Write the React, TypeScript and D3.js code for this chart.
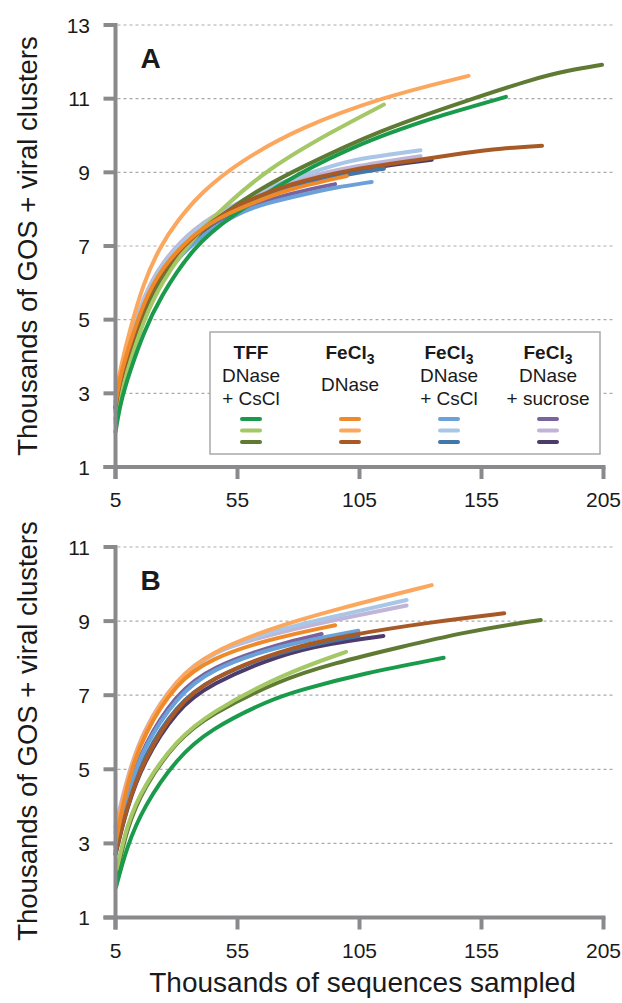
import React from "react";
import * as d3 from "d3";

type Pt = [number, number];

// ---------- tick values ----------
const X_TICKS = [5, 55, 105, 155, 205];
const Y_TICKS_A = [1, 3, 5, 7, 9, 11, 13];
const Y_TICKS_B = [1, 3, 5, 7, 9, 11];

// ---------- legend ----------
const LEGEND_HEADERS = ["TFF", "FeCl", "FeCl", "FeCl"];
const LEGEND_SUB = ["", "3", "3", "3"];
const LEGEND_LINE1 = ["DNase", "DNase", "DNase", "DNase"];
const LEGEND_LINE2 = ["+ CsCl", "", "+ CsCl", "+ sucrose"];

// ---------- colours (group x replicate) ----------
const TFF_COLORS = ["#1a9a4b", "#a5c867", "#5f7a33"];
const FE_COLORS = ["#ef8a2a", "#fba85e", "#a85a26"];
const CS_COLORS = ["#6aa1d8", "#a8c6e6", "#4277aa"];
const SU_COLORS = ["#7a629e", "#c0b4d8", "#4d3c6b"];

// ---------- Panel A data (thousands sampled, thousands of clusters) ----------
const A_TFF_1: Pt[] = [[5, 1.95], [7, 2.75], [10.9, 3.6], [16.4, 4.63], [23.2, 5.6], [36.9, 6.98], [51.9, 7.8], [80, 9.0], [108, 9.85], [123, 10.2], [135, 10.48], [165, 11.05]];
const A_TFF_2: Pt[] = [[5, 2.2], [7, 2.95], [10.9, 3.85], [16.4, 4.95], [23.2, 5.95], [36.9, 7.25], [49.3, 8.05], [67, 9.08], [94.3, 10.13], [115, 10.84]];
const A_TFF_3: Pt[] = [[5, 2.3], [7, 3.2], [10.9, 4.1], [16.4, 5.2], [23.2, 6.15], [36.9, 7.25], [51.9, 8.0], [64.2, 8.55], [80.8, 9.13], [113.4, 10.15], [149.1, 10.95], [176.3, 11.54], [190, 11.76], [204.4, 11.92]];
const A_FE_1: Pt[] = [[5, 2.73], [6.8, 3.45], [10.9, 4.36], [16.4, 5.44], [23.2, 6.35], [36.9, 7.35], [50.6, 7.89], [68.3, 8.35], [76.5, 8.55], [99.8, 8.9]];
const A_FE_2: Pt[] = [[5, 2.9], [6.8, 3.63], [10.9, 4.72], [16.4, 5.99], [23.2, 6.98], [30, 7.65], [39.8, 8.44], [56, 9.3], [80.8, 10.22], [114.8, 11.05], [149.7, 11.62]];
const A_FE_3: Pt[] = [[5, 2.6], [6.8, 3.35], [10.9, 4.25], [16.4, 5.35], [23.2, 6.3], [36.9, 7.3], [53.4, 8.1], [76.5, 8.7], [101.1, 9.08], [129.8, 9.34], [149.1, 9.54], [162.6, 9.65], [179.8, 9.72]];
const A_CS_1: Pt[] = [[5, 2.5], [6.8, 3.25], [10.9, 4.15], [16.4, 5.2], [23.2, 6.1], [36.9, 7.15], [56, 7.93], [67.2, 8.17], [83.4, 8.42], [94.4, 8.58], [110, 8.74]];
const A_CS_2: Pt[] = [[5, 2.75], [6.8, 3.5], [10.9, 4.45], [16.4, 5.55], [23.2, 6.45], [36.9, 7.45], [53.4, 8.1], [69.7, 8.65], [80.8, 8.9], [97, 9.25], [108, 9.4], [130, 9.6]];
const A_CS_3: Pt[] = [[5, 2.6], [6.8, 3.35], [10.9, 4.28], [16.4, 5.35], [23.2, 6.28], [36.9, 7.3], [53.4, 8.0], [76.5, 8.6], [100, 8.95], [115, 9.1]];
const A_SU_1: Pt[] = [[5, 2.65], [6.8, 3.4], [10.9, 4.3], [16.4, 5.38], [23.2, 6.3], [36.9, 7.3], [53.4, 7.95], [76.5, 8.43], [95, 8.68]];
const A_SU_2: Pt[] = [[5, 2.8], [6.8, 3.55], [10.9, 4.5], [16.4, 5.6], [23.2, 6.5], [36.9, 7.5], [53.4, 8.15], [76.5, 8.75], [97, 9.11], [130, 9.44]];
const A_SU_3: Pt[] = [[5, 2.6], [6.8, 3.35], [10.9, 4.25], [16.4, 5.3], [23.2, 6.25], [36.9, 7.25], [53.4, 8.0], [76.5, 8.62], [101, 9.05], [134.6, 9.34]];

// ---------- Panel B data ----------
const B_TFF_1: Pt[] = [[5.2, 1.82], [9.6, 2.9], [16.4, 3.98], [30.1, 5.3], [43.7, 6.08], [68.3, 6.88], [80.6, 7.14], [106.6, 7.59], [139.5, 8.01]];
const B_TFF_2: Pt[] = [[5.5, 2.3], [9.6, 3.5], [16.4, 4.55], [30.1, 5.8], [43.7, 6.52], [72.4, 7.54], [99.5, 8.17]];
const B_TFF_3: Pt[] = [[5.5, 2.15], [9.6, 3.4], [16.4, 4.5], [30.1, 5.78], [43.7, 6.48], [72.4, 7.41], [94.3, 7.86], [121.6, 8.3], [148.9, 8.71], [170.8, 8.95], [179.3, 9.03]];
const B_FE_1: Pt[] = [[5, 3.0], [9.6, 4.6], [16.4, 5.95], [30.1, 7.35], [43.7, 7.98], [67, 8.5], [95, 8.89]];
const B_FE_2: Pt[] = [[5.5, 3.4], [9.6, 4.7], [16.4, 6.05], [30.1, 7.45], [43.7, 8.15], [68.3, 8.8], [94.3, 9.3], [134.6, 9.97]];
const B_FE_3: Pt[] = [[5, 2.73], [9.6, 3.98], [16.4, 5.24], [30.1, 6.72], [43.7, 7.45], [72.4, 8.22], [99.8, 8.62], [135.2, 8.98], [164.3, 9.21]];
const B_CS_1: Pt[] = [[5, 2.9], [9.6, 4.3], [16.4, 5.6], [30.1, 6.95], [43.7, 7.7], [72.4, 8.35], [104.5, 8.74]];
const B_CS_2: Pt[] = [[5, 3.3], [9.6, 4.65], [16.4, 6.0], [30.1, 7.4], [43.7, 8.15], [72.4, 8.8], [100, 9.2], [124.3, 9.57]];
const B_CS_3: Pt[] = [[5, 2.8], [9.6, 4.1], [16.4, 5.35], [30.1, 6.75], [43.7, 7.45], [72.4, 8.2], [104.5, 8.6]];
const B_SU_1: Pt[] = [[5, 2.95], [9.6, 4.35], [16.4, 5.65], [30.1, 7.05], [43.7, 7.75], [72.4, 8.4], [89.5, 8.65]];
const B_SU_2: Pt[] = [[5, 3.45], [9.6, 4.75], [16.4, 6.1], [30.1, 7.45], [43.7, 8.18], [72.4, 8.71], [100, 9.1], [124.3, 9.42]];
const B_SU_3: Pt[] = [[5, 2.7], [9.6, 3.95], [16.4, 5.2], [30.1, 6.62], [43.7, 7.3], [72.4, 8.1], [92.9, 8.4], [114.8, 8.6]];

type Series = { data: Pt[]; color: string };

// draw order: sucrose, CsCl, TFF, FeCl3
const SERIES_A: Series[] = [
  { data: A_SU_3, color: SU_COLORS[2] },
  { data: A_SU_2, color: SU_COLORS[1] },
  { data: A_SU_1, color: SU_COLORS[0] },
  { data: A_CS_3, color: CS_COLORS[2] },
  { data: A_CS_2, color: CS_COLORS[1] },
  { data: A_CS_1, color: CS_COLORS[0] },
  { data: A_TFF_3, color: TFF_COLORS[2] },
  { data: A_TFF_2, color: TFF_COLORS[1] },
  { data: A_TFF_1, color: TFF_COLORS[0] },
  { data: A_FE_3, color: FE_COLORS[2] },
  { data: A_FE_2, color: FE_COLORS[1] },
  { data: A_FE_1, color: FE_COLORS[0] },
];
const SERIES_B: Series[] = [
  { data: B_SU_3, color: SU_COLORS[2] },
  { data: B_SU_2, color: SU_COLORS[1] },
  { data: B_SU_1, color: SU_COLORS[0] },
  { data: B_CS_3, color: CS_COLORS[2] },
  { data: B_CS_2, color: CS_COLORS[1] },
  { data: B_CS_1, color: CS_COLORS[0] },
  { data: B_TFF_3, color: TFF_COLORS[2] },
  { data: B_TFF_2, color: TFF_COLORS[1] },
  { data: B_TFF_1, color: TFF_COLORS[0] },
  { data: B_FE_3, color: FE_COLORS[2] },
  { data: B_FE_2, color: FE_COLORS[1] },
  { data: B_FE_1, color: FE_COLORS[0] },
];

const FONT = "'Liberation Sans', Arial, Helvetica, sans-serif";
const AXIS = "#8a8a8c";
const X_LEFT = 115.5;
const X_RIGHT = 603.5;

const x = d3.scaleLinear().domain([5, 205]).range([X_LEFT, X_RIGHT]);

function Panel(props: {
  yScale: d3.ScaleLinear<number, number>;
  ticks: number[];
  series: Series[];
  letter: string;
  titleY: number;
  legend?: boolean;
}) {
  const { yScale: y, ticks, series, letter, titleY, legend } = props;
  const y0 = y(ticks[0]);
  const yTop = y(ticks[ticks.length - 1]);
  const line = d3
    .line<Pt>()
    .x((d) => x(d[0]))
    .y((d) => y(d[1]))
    .curve(d3.curveBasis);

  const legendCols = [251, 350, 449, 548];
  const legendColors = [TFF_COLORS, FE_COLORS, CS_COLORS, SU_COLORS];

  return (
    <g>
      {ticks.slice(1).map((t) => (
        <line
          key={"g" + t}
          x1={X_LEFT + 2}
          x2={613}
          y1={y(t)}
          y2={y(t)}
          stroke="#ababab"
          strokeWidth={1.2}
          strokeDasharray="3,3"
        />
      ))}
      {series.map((s, i) => (
        <path
          key={"s" + i}
          d={line(s.data) || ""}
          fill="none"
          stroke={s.color}
          strokeWidth={4}
          strokeLinecap="round"
          strokeLinejoin="round"
        />
      ))}
      <line x1={X_LEFT} x2={X_LEFT} y1={yTop - 2} y2={y0 + 12} stroke={AXIS} strokeWidth={4} />
      <line x1={X_LEFT - 12} x2={605.5} y1={y0} y2={y0} stroke={AXIS} strokeWidth={4} />
      {ticks.map((t) => (
        <g key={"yt" + t}>
          <line x1={X_LEFT - 12} x2={X_LEFT} y1={y(t)} y2={y(t)} stroke={AXIS} strokeWidth={4} />
          <text
            x={90}
            y={y(t)}
            dy="0.36em"
            textAnchor="end"
            fontFamily={FONT}
            fontSize={21}
            fill="#1a1a1a"
          >
            {t}
          </text>
        </g>
      ))}
      {X_TICKS.map((t) => (
        <g key={"xt" + t}>
          <line x1={x(t)} x2={x(t)} y1={y0} y2={y0 + 12} stroke={AXIS} strokeWidth={4} />
          <text
            x={x(t)}
            y={y0 + 40}
            textAnchor="middle"
            fontFamily={FONT}
            fontSize={21}
            fill="#1a1a1a"
          >
            {t}
          </text>
        </g>
      ))}
      <text
        transform={`translate(37,${titleY}) rotate(-90)`}
        textAnchor="middle"
        fontFamily={FONT}
        fontSize={27.5}
        fill="#1a1a1a"
      >
        Thousands of GOS + viral clusters
      </text>
      <text
        x={140.5}
        y={yTop + 43}
        fontFamily={FONT}
        fontWeight="bold"
        fontSize={28}
        fill="#1a1a1a"
      >
        {letter}
      </text>
      {legend && (
        <g>
          <rect x={210} y={332} width={390} height={122} fill="#fff" stroke="#a9a9a9" strokeWidth={1.5} />
          {legendCols.map((cx, i) => (
            <g key={"lg" + i}>
              <text
                x={cx}
                y={358.5}
                textAnchor="middle"
                fontFamily={FONT}
                fontWeight="bold"
                fontSize={19}
                fill="#1a1a1a"
              >
                {LEGEND_HEADERS[i]}
                {LEGEND_SUB[i] && (
                  <tspan fontSize={14} dy={5}>
                    {LEGEND_SUB[i]}
                  </tspan>
                )}
              </text>
              <text
                x={cx}
                y={LEGEND_LINE2[i] ? 382 : 391}
                textAnchor="middle"
                fontFamily={FONT}
                fontSize={19}
                fill="#1a1a1a"
              >
                {LEGEND_LINE1[i]}
              </text>
              {LEGEND_LINE2[i] && (
                <text
                  x={cx}
                  y={405}
                  textAnchor="middle"
                  fontFamily={FONT}
                  fontSize={19}
                  fill="#1a1a1a"
                >
                  {LEGEND_LINE2[i]}
                </text>
              )}
              {legendColors[i].map((c, j) => (
                <line
                  key={"sw" + j}
                  x1={cx - 9}
                  x2={cx + 9}
                  y1={419 + j * 11.5}
                  y2={419 + j * 11.5}
                  stroke={c}
                  strokeWidth={4}
                  strokeLinecap="round"
                />
              ))}
            </g>
          ))}
        </g>
      )}
    </g>
  );
}

export default function App() {
  const yA = d3.scaleLinear().domain([1, 13]).range([467, 25]);
  const yB = d3.scaleLinear().domain([1, 11]).range([917.5, 547]);
  return (
    <svg
      width={622}
      height={1003}
      viewBox="0 0 622 1003"
      style={{ position: "absolute", left: 0, top: 0, background: "#fff" }}
    >
      <rect x={0} y={0} width={622} height={1003} fill="#fff" />
      <Panel yScale={yA} ticks={Y_TICKS_A} series={SERIES_A} letter="A" titleY={246} legend />
      <Panel yScale={yB} ticks={Y_TICKS_B} series={SERIES_B} letter="B" titleY={731} />
      <text
        x={362.5}
        y={992}
        textAnchor="middle"
        fontFamily={FONT}
        fontSize={28}
        fill="#1a1a1a"
      >
        Thousands of sequences sampled
      </text>
    </svg>
  );
}
